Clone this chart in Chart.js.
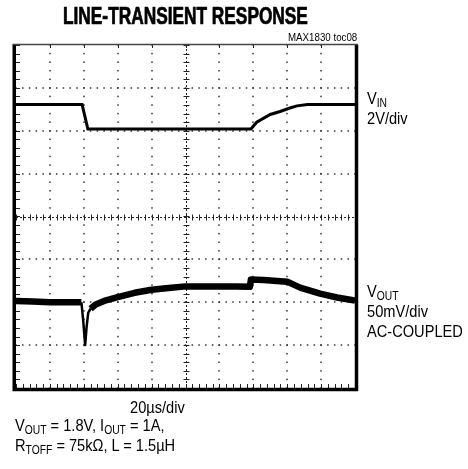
<!DOCTYPE html>
<html>
<head>
<meta charset="utf-8">
<script src="https://cdn.jsdelivr.net/npm/chart.js@4.4.1/dist/chart.umd.min.js"></script>
<style>
  html, body { margin: 0; padding: 0; background: #fff; }
  #wrap { position: relative; width: 468px; height: 469px; overflow: hidden; }
  canvas { position: absolute; left: 0; top: 0; }
  .t { position: absolute; white-space: nowrap; color: #000;
       font-family: "Liberation Sans", Arial, sans-serif; transform-origin: left top; }
  .lbl { font-size: 17px; line-height: 20px; transform: scaleX(0.86); }
  sub { font-size: 12px; vertical-align: -3px; line-height: 0; }
  #title { font-size: 23px; line-height: 26px; font-weight: bold; top: 3px; -webkit-text-stroke: 0.7px #000; }
  #toc { font-size: 11px; top: 31px; }
</style>
</head>
<body>
<div id="wrap">
  <canvas id="c" width="468" height="469"></canvas>
  <div class="t" id="title">LINE-TRANSIENT RESPONSE</div>
  <div class="t" id="toc">MAX1830 toc08</div>
  <div class="t lbl" style="left:367px;top:89px;">V<sub>IN</sub><br>2V/div</div>
  <div class="t lbl" style="left:367px;top:282px;">V<sub>OUT</sub><br>50mV/div<br>AC-COUPLED</div>
  <div class="t lbl" style="left:130px;top:398px;">20µs/div</div>
  <div class="t lbl" style="left:15px;top:416px;">V<sub>OUT</sub> = 1.8V, I<sub>OUT</sub> = 1A,<br>R<sub>TOFF</sub> = 75kΩ, L = 1.5µH</div>
</div>
<script>
// Time axis in divisions (20 µs/div), vertical axis in screen divisions
const xDivisions = [0, 10];
const yDivisions = [-4, 4];

// VIN trace (2V/div)
const vinX = [0, 1.95, 2.12, 6.93, 7.1, 7.5, 7.79, 8.08, 8.29, 8.6, 10];
const vinY = [2.61, 2.61, 2.04, 2.04, 2.2, 2.38, 2.45, 2.53, 2.58, 2.61, 2.61];

// VOUT trace (50mV/div, AC-coupled)
const voutX = [0, 0.5, 1.0, 1.5, 1.93, 1.99, 2.04, 2.08, 2.13, 2.2, 2.35, 2.6, 3.0, 3.5, 4.0, 4.5, 5.0, 5.5, 6.0, 6.5, 6.9, 6.93, 7.3, 8.0, 8.38, 8.97, 9.47, 10];
const voutY = [-1.97, -1.98, -2.0, -2.0, -2.0, -2.5, -3.0, -2.6, -2.25, -2.15, -2.05, -1.97, -1.88, -1.78, -1.71, -1.67, -1.63, -1.63, -1.63, -1.63, -1.64, -1.47, -1.48, -1.52, -1.66, -1.8, -1.89, -1.96];

const toPts = (xs, ys) => xs.map((x, i) => ({ x: x, y: ys[i] }));

// fit title texts horizontally (condensed look)
function fit(el, left, width) {
  const w = el.offsetWidth;
  el.style.left = left + 'px';
  el.style.transform = 'scaleX(' + (width / w) + ')';
}
fit(document.getElementById('title'), 63, 245);
fit(document.getElementById('toc'), 288, 69);

const scopePlugin = {
  id: 'scope',
  beforeDatasetsDraw(chart) {
    const ctx = chart.ctx;
    const xs = chart.scales.x, ys = chart.scales.y;
    const a = chart.chartArea;
    ctx.save();
    ctx.fillStyle = '#333';
    for (let i = 1; i < 10; i++) {
      if (i === 5) continue;
      const px = Math.round(xs.getPixelForValue(i));
      for (let j = -4; j <= 4.001; j += 0.2) {
        const py = ys.getPixelForValue(j);
        ctx.fillRect(px - 0.75, py - 0.75, 1.5, 1.5);
      }
    }
    for (let k = -3; k <= 3; k++) {
      if (k === 0) continue;
      const py = Math.round(ys.getPixelForValue(k));
      for (let j = 0; j <= 10.001; j += 0.2) {
        const px = xs.getPixelForValue(j);
        ctx.fillRect(px - 0.75, py - 0.75, 1.5, 1.5);
      }
    }
    ctx.strokeStyle = '#222';
    ctx.lineWidth = 1;
    const cx = Math.round(xs.getPixelForValue(5)) + 0.5;
    const cy = Math.round(ys.getPixelForValue(0)) + 0.5;
    ctx.setLineDash([2, 2]);
    ctx.beginPath();
    ctx.moveTo(a.left, cy); ctx.lineTo(a.right, cy);
    ctx.moveTo(cx, a.top); ctx.lineTo(cx, a.bottom);
    ctx.stroke();
    ctx.setLineDash([]);
    ctx.beginPath();
    for (let j = 0; j <= 10.001; j += 0.2) {
      const px = Math.round(xs.getPixelForValue(j)) + 0.5;
      ctx.moveTo(px, cy - 3); ctx.lineTo(px, cy + 3);
      ctx.moveTo(px, a.bottom); ctx.lineTo(px, a.bottom - 4);
    }
    for (let j = -4; j <= 4.001; j += 0.2) {
      const py = Math.round(ys.getPixelForValue(j)) + 0.5;
      ctx.moveTo(cx - 3, py); ctx.lineTo(cx + 3, py);
      ctx.moveTo(a.left, py); ctx.lineTo(a.left + 4, py);
    }
    for (let i = 1; i < 10; i++) {
      const px = Math.round(xs.getPixelForValue(i)) + 0.5;
      ctx.moveTo(px, a.top); ctx.lineTo(px, a.top + 3);
    }
    ctx.stroke();
    ctx.restore();
  },
  afterDraw(chart) {
    const ctx = chart.ctx;
    const a = chart.chartArea;
    ctx.save();
    ctx.strokeStyle = '#000';
    ctx.lineWidth = 3.5;
    ctx.beginPath();
    ctx.moveTo(a.left - 1.75, a.top);
    ctx.lineTo(a.left - 1.75, a.bottom + 1.5);
    ctx.lineTo(a.right + 1.5, a.bottom + 1.5);
    ctx.lineTo(a.right + 1.5, a.top);
    ctx.stroke();
    ctx.lineWidth = 1.5;
    ctx.strokeStyle = '#444';
    ctx.beginPath();
    ctx.moveTo(a.left - 3.5, a.top - 0.5);
    ctx.lineTo(a.right + 3, a.top - 0.5);
    ctx.stroke();
    ctx.restore();
  }
};

new Chart(document.getElementById('c'), {
  type: 'scatter',
  data: {
    datasets: [
      {
        label: 'VIN',
        data: toPts(vinX, vinY),
        showLine: true,
        borderColor: '#000',
        borderWidth: 3,
        pointRadius: 0,
        tension: 0
      },
      {
        label: 'VOUT',
        data: toPts(voutX, voutY),
        showLine: true,
        borderColor: '#000',
        borderWidth: 6.5,
        borderJoinStyle: 'round',
        pointRadius: 0,
        tension: 0,
        segment: {
          borderWidth: c => (c.p0.parsed.x >= 1.93 && c.p1.parsed.x <= 2.2) ? 2.5 : 6.5
        }
      }
    ]
  },
  options: {
    responsive: false,
    animation: false,
    layout: { padding: { left: 16, right: 113, top: 45, bottom: 81 } },
    plugins: { legend: { display: false }, tooltip: { enabled: false }, title: { display: false } },
    scales: {
      x: { type: 'linear', min: xDivisions[0], max: xDivisions[1], display: false },
      y: { type: 'linear', min: yDivisions[0], max: yDivisions[1], display: false }
    }
  },
  plugins: [scopePlugin]
});
</script>
</body>
</html>
